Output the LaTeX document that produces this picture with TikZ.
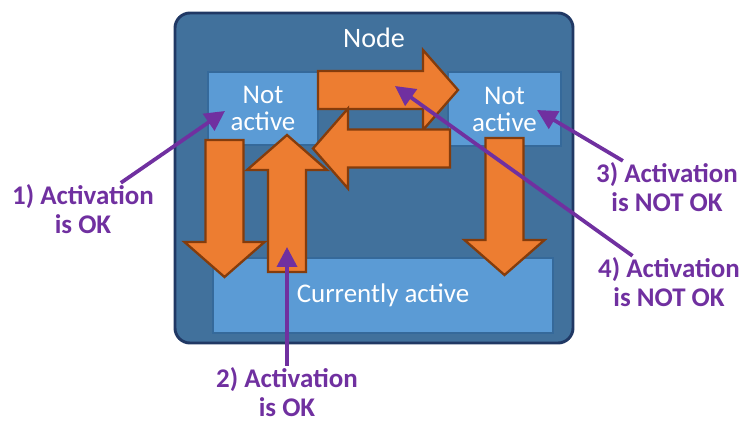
\documentclass[tikz,border=0pt]{standalone}
\usepackage{fontspec}
\setmainfont{Carlito}
\usetikzlibrary{arrows.meta}
\definecolor{nodeblue}{HTML}{41719C}
\definecolor{nodeedge}{HTML}{203864}
\definecolor{boxblue}{HTML}{5B9BD5}
\definecolor{boxedge}{HTML}{35699A}
\definecolor{fatorange}{HTML}{ED7D31}
\definecolor{fatedge}{HTML}{843C0C}
\definecolor{notepurple}{HTML}{7030A0}

\begin{document}
\begin{tikzpicture}
    [x = 0.03cm, y = -0.03cm,
     box/.style = {rectangle, fill = boxblue, draw = boxedge, line width = 1.5pt, text = white, align = center, font = \fontsize{23}{23}\selectfont, inner sep = 0pt},
     note/.style = {text = notepurple, align = center, inner sep = 1pt, font = \fontsize{23}{25}\selectfont\bfseries},
     hint/.style = {draw = notepurple, line width = 3.2pt, -{Triangle[length = 17pt, width = 17pt]}},
     fat/.style = {fill = fatorange, draw = fatedge, line width = 2pt, line join = miter}]
    \useasboundingbox (0,0) rectangle (743,423);

    \node[rectangle, rounded corners = 0.45cm, fill = nodeblue, draw = nodeedge, line width = 2.5pt, minimum width = 11.94cm, minimum height = 9.9cm] (node) at (374,178) {};
    \node[text = white, font = \fontsize{24}{24}\selectfont] (title) at (374,38) {Node};
    \node[box, minimum width = 3.3cm, minimum height = 2.19cm] (notL) at (263,108.5) {Not\\active};
    \node[box, minimum width = 3.39cm, minimum height = 2.22cm] (notR) at (504.5,109) {Not\\active};
    \node[box, minimum width = 10.2cm, minimum height = 2.25cm] (cur) at (383,295.5) {Currently active};

    % fat arrows: tail x / tail y / length / angle
    \foreach \ax/\ay/\len/\ang in {318/90/140/0, 450/148.5/137/180, 224.5/140/137/-90, 287/272/137/90, 504.5/138/137/-90}
      \draw[fat, shift = {(\ax,\ay)}, rotate = \ang] (0,-19) -- (\len-35,-19) -- (\len-35,-40) -- (\len,0) -- (\len-35,40) -- (\len-35,19) -- (0,19) -- cycle;

    \coordinate (tip1) at (225,111);
    \coordinate (tip2) at (287,247);
    \coordinate (tip3) at (537,110);
    \coordinate (tip4) at (395,86);
    \node[note] (lab1) at (83,209) {1) Activation\\is OK};
    \node[note] (lab2) at (287,392) {2) Activation\\is OK};
    \node[note] (lab3) at (667,187) {3) Activation\\is NOT OK};
    \node[note] (lab4) at (669,282) {4) Activation\\is NOT OK};

    \foreach \n in {1,...,4}
      \draw[hint] (lab\n) -- (tip\n);
  \end{tikzpicture}
\end{document}
